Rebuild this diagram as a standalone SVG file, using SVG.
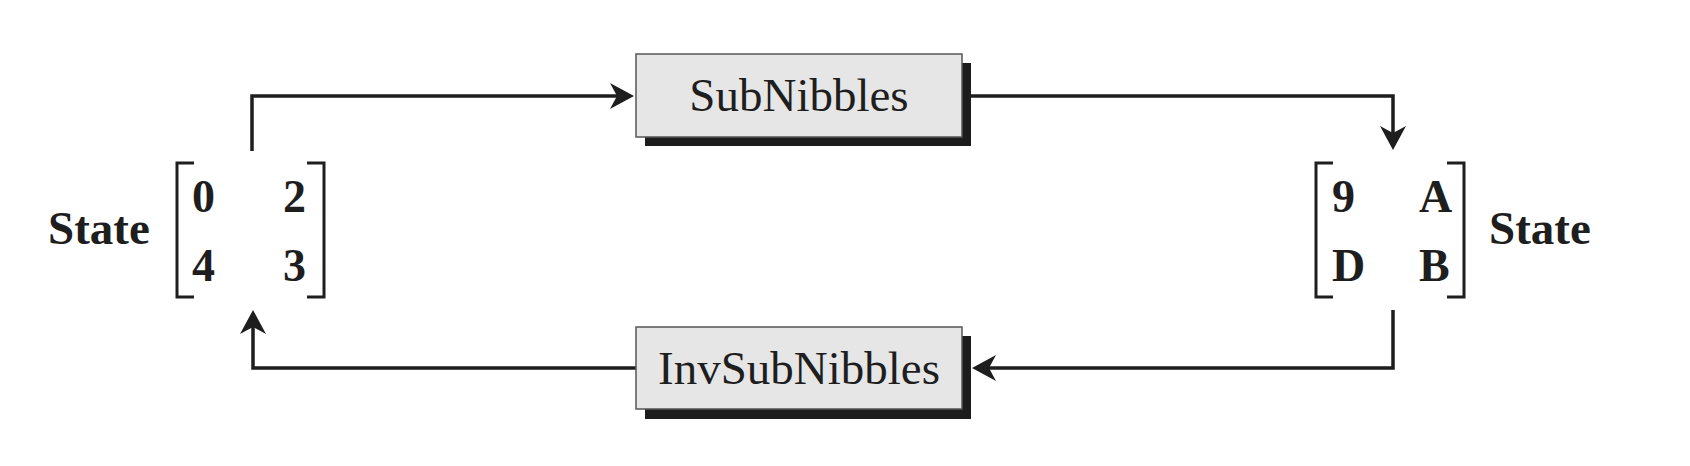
<svg xmlns="http://www.w3.org/2000/svg" width="1690" height="466" viewBox="0 0 1690 466">
<style>
.conn{fill:none;stroke:#1e1e1e;stroke-width:3.5;stroke-linejoin:miter}
.box{fill:#e6e6e6;stroke:#555;stroke-width:1.5}
.shadow{fill:#1c1c1c}
.lbl{font-family:"Liberation Serif","Times New Roman",serif;font-size:47px;fill:#1e1e1e;text-anchor:middle}
.bold{font-family:"Liberation Serif","Times New Roman",serif;font-weight:bold;fill:#1e1e1e}
.st{font-size:47px}
.cell{font-size:46px}
.br{fill:none;stroke:#1e1e1e;stroke-width:3}
</style>
<defs>
<marker id="arr" markerUnits="userSpaceOnUse" markerWidth="26" markerHeight="28" refX="7" refY="13" orient="auto" overflow="visible">
<path d="M0,0 L24,13 L0,26 L7,13 Z" fill="#1e1e1e"/>
</marker>
</defs>
<g id="connectors">
<path class="conn" d="M252,151 V96 H617" marker-end="url(#arr)"/>
<path class="conn" d="M962,96 H1393 V133" marker-end="url(#arr)"/>
<path class="conn" d="M1393,310 V368 H989" marker-end="url(#arr)"/>
<path class="conn" d="M636,368 H253 V327" marker-end="url(#arr)"/>
</g>
<g id="subnibbles">
<rect class="shadow" x="645" y="63" width="326" height="83"/>
<rect class="box" x="636" y="54" width="326" height="83"/>
<text class="lbl" x="799" y="111">SubNibbles</text>
</g>
<g id="invsubnibbles">
<rect class="shadow" x="645" y="336" width="326" height="83"/>
<rect class="box" x="636" y="327" width="326" height="82"/>
<text class="lbl" x="799" y="384">InvSubNibbles</text>
</g>
<g id="state-left">
<text class="bold st" x="48" y="244">State</text>
<path class="br" d="M194,163 H177 V297 H194"/>
<path class="br" d="M307,163 H324 V297 H307"/>
<text class="bold cell" x="192" y="212">0</text>
<text class="bold cell" x="283" y="212">2</text>
<text class="bold cell" x="192" y="281">4</text>
<text class="bold cell" x="283" y="281">3</text>
</g>
<g id="state-right">
<path class="br" d="M1333,163 H1316 V297 H1333"/>
<path class="br" d="M1447,163 H1464 V297 H1447"/>
<text class="bold cell" x="1332" y="212">9</text>
<text class="bold cell" x="1419" y="212">A</text>
<text class="bold cell" x="1332" y="281">D</text>
<text class="bold cell" x="1419" y="281">B</text>
<text class="bold st" x="1489" y="244">State</text>
</g>
</svg>
